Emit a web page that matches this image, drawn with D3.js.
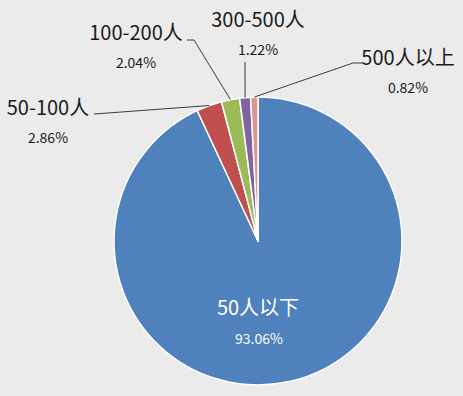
<!DOCTYPE html>
<html>
<head>
<meta charset="utf-8">
<script src="https://cdn.jsdelivr.net/npm/d3@7"></script>
<style>
  html, body { margin: 0; padding: 0; background: #ebebeb; }
  text { font-family: "Noto Sans CJK SC", "Noto Sans", sans-serif; }
</style>
</head>
<body>
<div id="viz"></div>
<script>
// data
var categories = ["50人以下", "50-100人", "100-200人", "300-500人", "500人以上"];
var shares = [93.06, 2.86, 2.04, 1.22, 0.82];
var colors = ["#4f81bd", "#c0504d", "#9bbb59", "#8064a2", "#d99694"];

var width = 463,
    height = 396,
    cx = 258, cy = 241,
    radius = 144;

// where the outside labels sit (label centre x, name baseline y) and leader elbow
var labelLayout = [
  null,
  { x: 48,  y: 115, elbow: [[94, 114]] },
  { x: 136, y: 40,  elbow: [[187, 40], [194, 40]] },
  { x: 258, y: 27,  elbow: [[245, 62]] },
  { x: 408, y: 65,  elbow: [[362, 63], [353, 63]] }
];

var svg = d3.select("#viz").append("svg")
    .attr("width", width)
    .attr("height", height);

svg.append("rect")
    .attr("width", width)
    .attr("height", height)
    .attr("fill", "#ebebeb");

var g = svg.append("g")
    .attr("transform", "translate(" + cx + "," + cy + ")");

var pie = d3.pie().sort(null).value(function(d) { return d; });
var arcs = pie(shares);

var arc = d3.arc().innerRadius(0).outerRadius(radius);
var edge = d3.arc().innerRadius(radius).outerRadius(radius);

g.selectAll("path.slice")
    .data(arcs)
  .enter().append("path")
    .attr("class", "slice")
    .attr("d", arc)
    .attr("fill", function(d, i) { return colors[i]; })
    .attr("stroke", "#ffffff")
    .attr("stroke-width", 1.5)
    .attr("stroke-linejoin", "round");

// leader lines
var line = d3.line();
arcs.forEach(function(d, i) {
  var lay = labelLayout[i];
  if (!lay) return;
  var c = edge.centroid(d);
  var pts = lay.elbow.slice();
  pts.push([c[0] + cx, c[1] + cy]);
  svg.append("path")
      .attr("d", line(pts))
      .attr("fill", "none")
      .attr("stroke", "#3a3a3a")
      .attr("stroke-width", 1);
});

// outside labels
arcs.forEach(function(d, i) {
  var lay = labelLayout[i];
  if (!lay) return;
  svg.append("text")
      .attr("x", lay.x)
      .attr("y", lay.y)
      .attr("text-anchor", "middle")
      .attr("font-size", 20)
      .attr("fill", "#1a1a1a")
      .text(categories[i]);
  svg.append("text")
      .attr("x", lay.x)
      .attr("y", lay.y + 28)
      .attr("text-anchor", "middle")
      .attr("font-size", 14)
      .attr("fill", "#1a1a1a")
      .text(shares[i].toFixed(2) + "%");
});

// inside label for the big slice
svg.append("text")
    .attr("x", 258)
    .attr("y", 315)
    .attr("text-anchor", "middle")
    .attr("font-size", 20)
    .attr("fill", "#ffffff")
    .text(categories[0]);
svg.append("text")
    .attr("x", 259)
    .attr("y", 344)
    .attr("text-anchor", "middle")
    .attr("font-size", 14)
    .attr("fill", "#ffffff")
    .text(shares[0].toFixed(2) + "%");
</script>
</body>
</html>
